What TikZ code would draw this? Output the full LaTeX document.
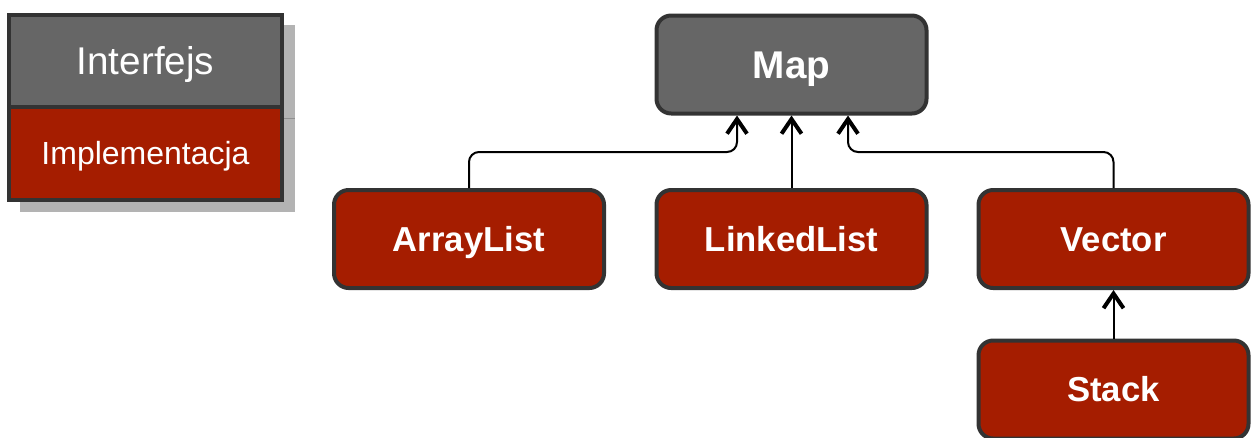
\documentclass[tikz,border=0pt]{standalone}
\usepackage{fontspec}
\setmainfont{Liberation Sans}
\usetikzlibrary{arrows.meta}
\definecolor{JCGray}{HTML}{666666}
\definecolor{JCRed}{HTML}{A51D00}
\definecolor{JCLine}{HTML}{333333}
\definecolor{JCShadow}{HTML}{B3B3B3}

\begin{document}
\begin{tikzpicture}[x=0.75pt,y=0.75pt,
  classbox/.style={draw=JCLine,line width=3pt,rounded corners=11pt,
    minimum width=202.5pt,minimum height=73.5pt,inner sep=0pt,text=white,
    text height=18.6pt,text depth=0pt,font=\fontsize{26}{30}\selectfont\bfseries},
  legbox/.style={draw=JCLine,line width=3pt,minimum width=204.75pt,inner sep=0pt,
    text=white,text depth=0pt},
  link/.style={draw=black,line width=1.5pt,rounded corners=7.5pt,
    -{Straight Barb[length=11pt,width=15pt,line width=3pt]}}]
\path[use as bounding box] (0,0) rectangle (1251,-437);
% legend
\fill[JCShadow] (20,-25) rectangle (295,-212);
\draw[JCShadow!80!black,line width=0.75pt] (20,-118) -- (295,-118);
\node[legbox,fill=JCGray,minimum height=69pt,text height=20.8pt,font=\fontsize{29}{34}\selectfont] (ifc) at (145.5,-61) {Interfejs};
\node[legbox,fill=JCRed,minimum height=69.75pt,text height=17.2pt,font=\fontsize{24}{28}\selectfont] (impl) at (145.5,-153.5) {Implementacja};
% classes
\node[classbox,fill=JCGray,text height=20.8pt,font=\fontsize{29}{34}\selectfont\bfseries] (map) at (791.5,-64.5) {Map};
\node[classbox,fill=JCRed] (al) at (469,-239) {ArrayList};
\node[classbox,fill=JCRed] (ll) at (791.5,-239) {LinkedList};
\node[classbox,fill=JCRed] (vec) at (1113.5,-239) {Vector};
\node[classbox,fill=JCRed] (stk) at (1113.5,-389.5) {Stack};
% links
\coordinate (jl) at (737,-152);
\coordinate (jr) at (848,-152);
\draw[link] (al.north) |- (jl) -- (jl |- map.south);
\draw[link] (ll.north) -- (map.south);
\draw[link] (vec.north) |- (jr) -- (jr |- map.south);
\draw[link] (stk.north) -- (vec.south);
\end{tikzpicture}
\end{document}
